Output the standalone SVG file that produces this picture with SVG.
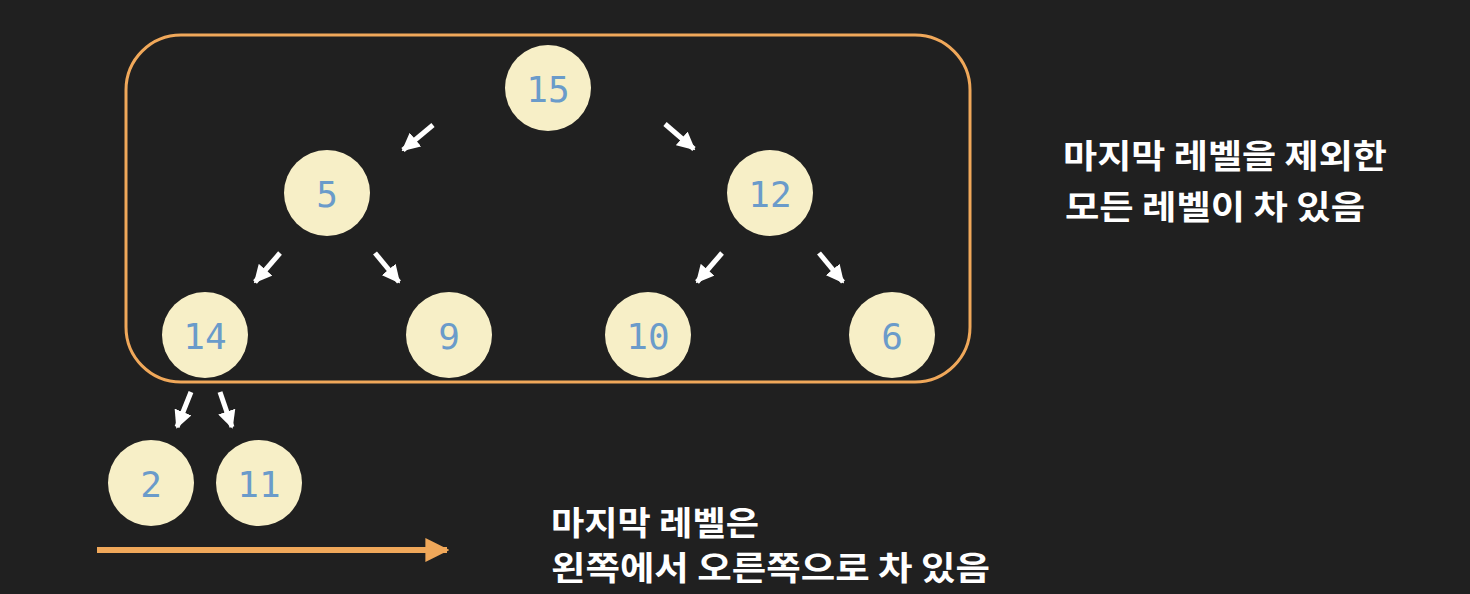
<svg xmlns="http://www.w3.org/2000/svg" width="1470" height="594" viewBox="0 0 1470 594">
<defs>
<style>
.node circle{fill:#F7EFC7;}
.node text{fill:#6A9BCA;font-family:"DejaVu Sans Mono","Liberation Mono",monospace;font-size:36px;text-anchor:middle;dominant-baseline:central;}
.edge{stroke:#FFFFFF;stroke-width:5;fill:none;marker-end:url(#wh);}
.label{fill:#FFFFFF;font-family:"Noto Sans CJK KR","Noto Sans",sans-serif;font-weight:bold;font-size:33px;}
</style>
<marker id="wh" viewBox="0 0 10 10" refX="9" refY="5" markerWidth="3.6" markerHeight="3.6" orient="auto" markerUnits="strokeWidth">
<path d="M0,0 L10,5 L0,10 Z" fill="#FFFFFF"/>
</marker>
<marker id="oh" viewBox="0 0 10 10" refX="9" refY="5" markerWidth="4" markerHeight="4" orient="auto" markerUnits="strokeWidth">
<path d="M0,0 L10,5 L0,10 Z" fill="#F0A85A"/>
</marker>
</defs>
<rect width="1470" height="594" fill="#202020"/>
<rect x="126" y="35" width="844" height="347" rx="55" ry="55" fill="none" stroke="#F0A85A" stroke-width="3"/>
<g id="connectors">
<line class="edge" x1="433" y1="125" x2="403" y2="150"/>
<line class="edge" x1="665" y1="124" x2="694" y2="149"/>
<line class="edge" x1="280" y1="253" x2="255" y2="282"/>
<line class="edge" x1="375" y1="253" x2="399" y2="282"/>
<line class="edge" x1="722" y1="253" x2="697" y2="282"/>
<line class="edge" x1="819" y1="253" x2="843" y2="282"/>
<line class="edge" x1="191" y1="392" x2="177" y2="427"/>
<line class="edge" x1="220" y1="392" x2="232" y2="427"/>
<line x1="97" y1="550" x2="447" y2="550" stroke="#F0A85A" stroke-width="6" marker-end="url(#oh)"/>
</g>
<g id="n15" class="node"><circle cx="548" cy="88" r="43"/><text x="548" y="89">15</text></g>
<g id="n5" class="node"><circle cx="327" cy="193" r="43"/><text x="327" y="194">5</text></g>
<g id="n12" class="node"><circle cx="770" cy="193" r="43"/><text x="770" y="194">12</text></g>
<g id="n14" class="node"><circle cx="205" cy="335" r="43"/><text x="205" y="336">14</text></g>
<g id="n9" class="node"><circle cx="449" cy="335" r="43"/><text x="449" y="336">9</text></g>
<g id="n10" class="node"><circle cx="648" cy="335" r="43"/><text x="648" y="336">10</text></g>
<g id="n6" class="node"><circle cx="892" cy="335" r="43"/><text x="892" y="336">6</text></g>
<g id="n2" class="node"><circle cx="151" cy="483" r="43"/><text x="151" y="484">2</text></g>
<g id="n11" class="node"><circle cx="259" cy="483" r="43"/><text x="259" y="484">11</text></g>
<g id="label-top">
<text class="label" x="1063" y="168" textLength="324" lengthAdjust="spacingAndGlyphs">마지막 레벨을 제외한</text>
<text class="label" x="1065" y="219" textLength="300" lengthAdjust="spacingAndGlyphs">모든 레벨이 차 있음</text>
</g>
<g id="label-bottom">
<text class="label" x="551" y="535" textLength="208" lengthAdjust="spacingAndGlyphs">마지막 레벨은</text>
<text class="label" x="551" y="580" textLength="439" lengthAdjust="spacingAndGlyphs">왼쪽에서 오른쪽으로 차 있음</text>
</g>
</svg>
